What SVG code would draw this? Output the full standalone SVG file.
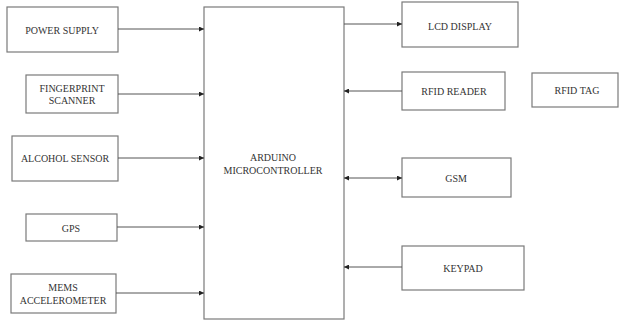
<svg xmlns="http://www.w3.org/2000/svg" width="619" height="320" viewBox="0 0 619 320">
<defs>
<marker id="ah" viewBox="0 0 6 6" refX="6" refY="3" markerWidth="5" markerHeight="5" orient="auto-start-reverse" markerUnits="userSpaceOnUse">
<path d="M0,0 L6,3 L0,6 z" fill="#222"/>
</marker>
<style>
.box{fill:#fff;stroke:#7a7a7a;stroke-width:1.2}
.t{font-family:"Liberation Serif","Times New Roman",serif;font-size:10px;fill:#333;text-anchor:middle;dominant-baseline:central}
.c{stroke:#555;stroke-width:1;fill:none}
</style>
</defs>
<rect width="619" height="320" fill="#fff"/>
<g id="power-supply"><rect class="box" x="7" y="7" width="111" height="45"/><text class="t" x="62" y="30">POWER SUPPLY</text></g>
<g id="fingerprint"><rect class="box" x="26" y="75" width="92" height="38"/><text class="t" x="72" y="88">FINGERPRINT</text><text class="t" x="72" y="100">SCANNER</text></g>
<g id="alcohol"><rect class="box" x="12" y="136" width="106" height="45"/><text class="t" x="65" y="158">ALCOHOL SENSOR</text></g>
<g id="gps"><rect class="box" x="26" y="214" width="91" height="27"/><text class="t" x="71" y="228">GPS</text></g>
<g id="mems"><rect class="box" x="11" y="274" width="105" height="39"/><text class="t" x="63" y="287">MEMS</text><text class="t" x="63" y="300">ACCELEROMETER</text></g>
<g id="arduino"><rect class="box" x="204" y="7" width="140" height="312"/><text class="t" x="273" y="157">ARDUINO</text><text class="t" x="273" y="170">MICROCONTROLLER</text></g>
<g id="lcd"><rect class="box" x="402" y="2" width="116" height="45"/><text class="t" x="460" y="26">LCD DISPLAY</text></g>
<g id="rfid-reader"><rect class="box" x="402" y="72" width="103" height="38"/><text class="t" x="454" y="91">RFID READER</text></g>
<g id="rfid-tag"><rect class="box" x="532" y="73" width="86" height="34"/><text class="t" x="577" y="90">RFID TAG</text></g>
<g id="gsm"><rect class="box" x="402" y="158" width="109" height="39"/><text class="t" x="456" y="178">GSM</text></g>
<g id="keypad"><rect class="box" x="402" y="246" width="122" height="44"/><text class="t" x="463" y="268">KEYPAD</text></g>
<g id="connectors">
<line class="c" x1="118" y1="29" x2="204" y2="29" marker-end="url(#ah)"/>
<line class="c" x1="118" y1="94" x2="204" y2="94" marker-end="url(#ah)"/>
<line class="c" x1="118" y1="158" x2="204" y2="158" marker-end="url(#ah)"/>
<line class="c" x1="117" y1="227" x2="204" y2="227" marker-end="url(#ah)"/>
<line class="c" x1="116" y1="293" x2="204" y2="293" marker-end="url(#ah)"/>
<line class="c" x1="344" y1="24" x2="402" y2="24" marker-end="url(#ah)"/>
<line class="c" x1="402" y1="91" x2="344" y2="91" marker-end="url(#ah)"/>
<line class="c" x1="344" y1="178" x2="402" y2="178" marker-start="url(#ah)" marker-end="url(#ah)"/>
<line class="c" x1="402" y1="267" x2="344" y2="267" marker-end="url(#ah)"/>
</g>
</svg>
